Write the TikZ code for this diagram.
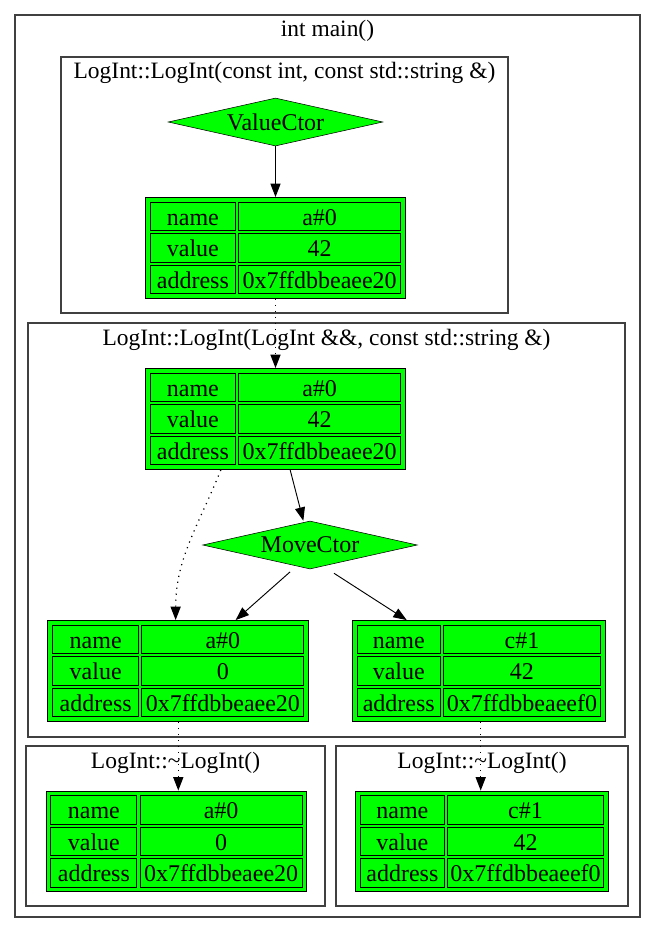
\documentclass[tikz,border=0pt]{standalone}
\usepackage{fontspec}
\setmainfont{Liberation Serif}
\usetikzlibrary{matrix,shapes.geometric,arrows.meta}
\tikzset{
    cluster-box/.style = {draw=black!75, line width=0.9pt},
    cluster-title/.style = {font=\fontsize{17.6pt}{20pt}\selectfont, inner sep=0pt, anchor=center},
    ctor-diamond/.style = {diamond, draw, fill=green, aspect=4, inner sep=0pt, minimum width=161pt, minimum height=36pt, font=\fontsize{18pt}{20pt}\selectfont},
    log-table/.style = {matrix of nodes, draw, fill=green, line width=0.8pt, inner sep=3.2pt, column sep=1.6pt, row sep=1.6pt,
        nodes={draw, fill=green, line width=0.8pt, minimum height=21.2pt, inner sep=0.5pt, text height=14pt, text depth=1pt, anchor=center, font=\fontsize{18pt}{20pt}\selectfont}},
    left-col/.style = {column 1/.style={nodes={minimum width=#1}}},
    right-col/.style = {column 2/.style={nodes={minimum width=#1}}},
    flow/.style = {-{Triangle[length=10pt, width=7.5pt]}, line width=0.7pt},
    pass/.style = {flow, line width=0.9pt, dash pattern=on 0.9pt off 3.6pt},
}

\begin{document}
\begin{tikzpicture}[x=0.75pt, y=-0.75pt]
\useasboundingbox (0,0) rectangle (656,933);
% clusters
\draw[cluster-box] (15,15) rectangle (640,917);
\node[cluster-title] (main-title) at (327.5,31) {int main()};
\draw[cluster-box] (61,57) rectangle (508,313);
\node[cluster-title] (value-title) at (284.5,73) {LogInt::LogInt(const int, const std::string \&)};
\draw[cluster-box] (28,323) rectangle (625,737);
\node[cluster-title] (move-title) at (326.5,339.5) {LogInt::LogInt(LogInt \&\&, const std::string \&)};
\draw[cluster-box] (26,746) rectangle (325,906);
\node[cluster-title] (dtor-a-title) at (175.5,762.5) {LogInt::\textasciitilde LogInt()};
\draw[cluster-box] (336,746) rectangle (628,906);
\node[cluster-title] (dtor-c-title) at (482,762.5) {LogInt::\textasciitilde LogInt()};

% nodes
\node[ctor-diamond] (value-ctor) at (275.5,122) {ValueCtor};
\matrix[log-table, left-col=63.8pt, right-col=121.5pt] (t1) at (275.5,248) {
    name & a\#0 \\
    value & 42 \\
    address & 0x7ffdbbeaee20 \\
};
\matrix[log-table, left-col=63.8pt, right-col=121.5pt] (t2) at (275.5,419) {
    name & a\#0 \\
    value & 42 \\
    address & 0x7ffdbbeaee20 \\
};
\node[ctor-diamond] (move-ctor) at (310,545) {MoveCtor};
\matrix[log-table, left-col=64.5pt, right-col=121.5pt] (t3) at (178.3,671) {
    name & a\#0 \\
    value & 0 \\
    address & 0x7ffdbbeaee20 \\
};
\matrix[log-table, left-col=62.5pt, right-col=117.5pt] (t4) at (478.7,671) {
    name & c\#1 \\
    value & 42 \\
    address & 0x7ffdbbeaeef0 \\
};
\matrix[log-table, left-col=64.5pt, right-col=121.5pt] (t5) at (176.5,841.5) {
    name & a\#0 \\
    value & 0 \\
    address & 0x7ffdbbeaee20 \\
};
\matrix[log-table, left-col=62.5pt, right-col=117.5pt] (t6) at (482.3,841.5) {
    name & c\#1 \\
    value & 42 \\
    address & 0x7ffdbbeaeef0 \\
};

% edges
\draw[flow] (value-ctor.south) -- (t1.north);
\draw[pass] (t1.south) -- (t2.north);
\draw[flow] ([xshift=11pt]t2.south) -- ([xshift=-5pt]move-ctor.north);
\draw[pass] ([xshift=-41pt]t2.south) to[out=-112, in=90] ([xshift=-2pt]t3.north);
\draw[flow] ([xshift=-15pt,yshift=-2pt]move-ctor.south) -- ([xshift=43pt]t3.north);
\draw[flow] ([xshift=18pt,yshift=-3pt]move-ctor.south) -- ([xshift=-54pt]t4.north);
\draw[pass] (t3.south) -- (t3.south |- t5.north);
\draw[pass] ([xshift=1.5pt]t4.south) -- ([xshift=1.5pt]t4.south |- t6.north);
\end{tikzpicture}
\end{document}
